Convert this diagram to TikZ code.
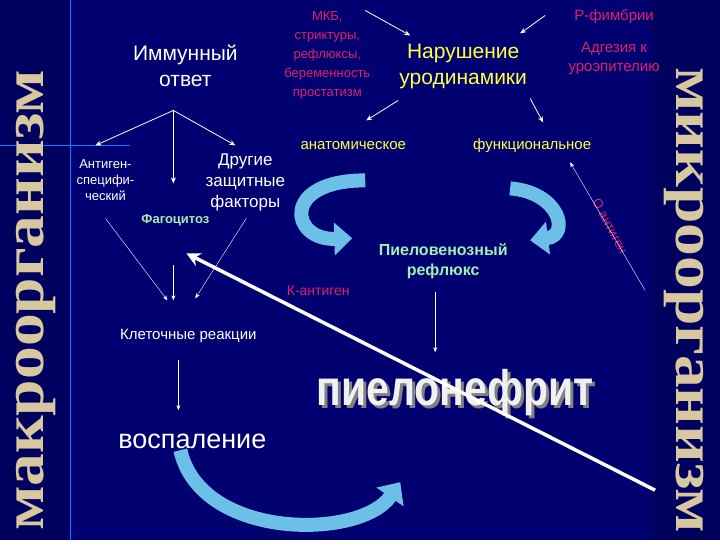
\documentclass[tikz,border=0pt]{standalone}
\usepackage{fontspec}
\setmainfont{Liberation Sans}
\newfontfamily\serifb{Liberation Serif}
\usetikzlibrary{arrows.meta}
\definecolor{bg}{HTML}{000070}
\definecolor{pinkt}{HTML}{E0206A}
\definecolor{yel}{HTML}{FFFF40}
\definecolor{grn}{HTML}{A0F0B0}
\definecolor{tan}{HTML}{D8C8A0}
\definecolor{sky}{HTML}{6CC0E8}
\begin{document}
\begin{tikzpicture}[x=1pt,y=-1pt,
 wt/.style={white,align=center},
 pk/.style={pinkt,align=center,font=\fontsize{13}{15}\selectfont},
 arr/.style={white,thick,-{Stealth[length=6pt,width=5pt]}},
 tarr/.style={white,-{Stealth[length=5pt,width=4pt]}},
 side/.style={tan,inner sep=0pt,font=\serifb\bfseries\fontsize{58}{58}\selectfont},
 curve/.style={sky,line width=14pt,-{Triangle[width=32pt,length=18pt]}}]
\fill[bg] (0,0) rectangle (720,540);
\fill[bg!85!black] (0,0) rectangle (68,540);
\fill[bg!85!black] (652,0) rectangle (720,540);
\draw[blue!50!cyan,line width=1pt] (70,0) -- (70,540);
\draw[blue!50!cyan,line width=1pt] (0,145) -- (130,145);
\node[side,rotate=90] (mak) at (36,300) {\scalebox{1.13}[1]{макроорганизм}};
\node[side,rotate=-90] (mik) at (684,300) {\scalebox{1.13}[1]{микроорганизм}};
% texts
\node[wt,font=\fontsize{21}{26}\selectfont] (imm) at (185,65) {Иммунный\\ответ};
\node[pk,font=\fontsize{13}{19}\selectfont] (mkb) at (327,55) {МКБ,\\стриктуры,\\рефлюксы,\\беременность\\простатизм};
\node[yel,align=center,font=\fontsize{21}{26}\selectfont] (nar) at (463,66) {Нарушение\\уродинамики};
\node[pk,font=\fontsize{15}{17}\selectfont] (pf) at (614,16) {Р-фимбрии};
\node[pk,font=\fontsize{15}{19}\selectfont] (adg) at (614,58) {Адгезия к\\уроэпителию};
\node[yel,font=\fontsize{15}{18}\selectfont] (ana) at (353,145) {анатомическое};
\node[yel,font=\fontsize{15}{18}\selectfont] (fun) at (532,145) {функциональное};
\node[wt,font=\fontsize{13}{16}\selectfont] (ag) at (105,180) {Антиген-\\специфи-\\ческий};
\node[wt,font=\fontsize{17}{21}\selectfont] (dr) at (245,182) {Другие\\защитные\\факторы};
\node[grn,font=\bfseries\fontsize{13}{15}\selectfont] (fag) at (175,220) {Фагоцитоз};
\node[wt,font=\fontsize{15}{18}\selectfont] (kl) at (188,336) {Клеточные реакции};
\node[wt,font=\fontsize{27}{30}\selectfont] (vos) at (192,441) {воспаление};
\node[grn,align=center,font=\bfseries\fontsize{16}{20}\selectfont] (pvr) at (443,261) {Пиеловенозный\\рефлюкс};
\node[pk,font=\fontsize{14}{16}\selectfont] (ka) at (318,290) {К-антиген};
\node[pk,rotate=-62] (oa) at (610,226) {О антиген};
\node[black!50,font=\bfseries\fontsize{50}{50}\selectfont,xscale=0.82] at (458,395) {пиелонефрит};
\node[white!88!gray,font=\bfseries\fontsize{50}{50}\selectfont,xscale=0.82] (pn) at (455,392) {пиелонефрит};
% curved arrows
\draw[curve] (365,180) .. controls (280,180) and (290,240) .. (352,238);
\draw[curve] (510,188) .. controls (560,192) and (570,235) .. (530,240);
\draw[curve] (180,450) .. controls (200,540) and (360,540) .. (400,482);
% connectors
\coordinate (mk1) at (365,10); \coordinate (nr1) at (410,35);
\draw[arr] (mk1) -- (nr1);
\coordinate (pf1) at (545,15); \coordinate (nr2) at (520,33);
\draw[arr] (pf1) -- (nr2);
\coordinate (n3) at (398,100); \coordinate (a1) at (366,120);
\draw[arr] (n3) -- (a1);
\coordinate (n4) at (530,98); \coordinate (f1) at (543,122);
\draw[arr] (n4) -- (f1);
\coordinate (i0) at (173,110);
\draw[arr] (i0) -- (95,145);
\draw[arr] (i0) -- (173,183);
\draw[arr] (i0) -- (235,145);
\draw[tarr] (105,218) -- (167,300);
\draw[tarr] (173,265) -- (173,300);
\draw[tarr] (246,218) -- (195,298);
\draw[tarr] (178,360) -- (178,410);
\draw[tarr] (435,292) -- (435,352);
\draw[tarr] (645,290) -- (570,162);
\draw[white,line width=3.5pt,-{Stealth[length=14pt,width=14pt]}] (655,490) -- (186,253);
\end{tikzpicture}
\end{document}
